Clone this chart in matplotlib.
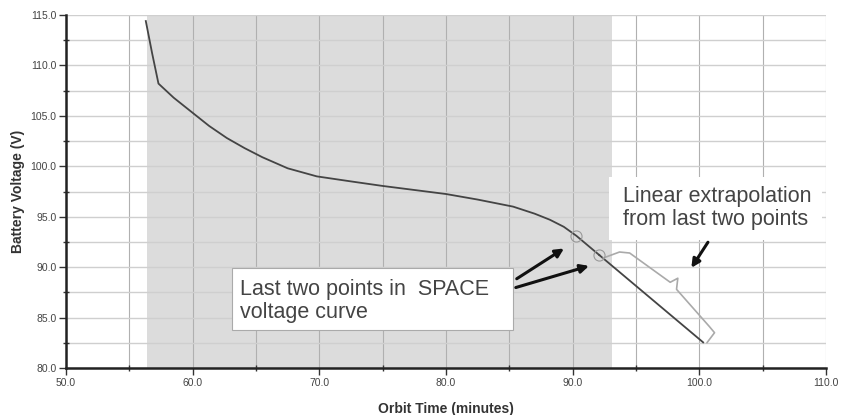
import numpy as np
import matplotlib
matplotlib.use("Agg")
import matplotlib.pyplot as plt
from matplotlib.patches import Rectangle
from matplotlib.ticker import MultipleLocator, FormatStrFormatter

plt.rcParams['font.family'] = ['Liberation Sans', 'DejaVu Sans']

# ---- data ----
orbit_time = [56.3, 56.8, 57.3, 58.5, 60.0, 61.3, 62.7, 64.1, 65.5, 67.5, 69.8,
              72.5, 75.0, 77.5, 80.0, 82.5, 85.3, 87.0, 88.2, 89.3, 90.3, 92.1]
voltage = [114.4, 111.2, 108.2, 106.8, 105.3, 104.0, 102.8, 101.8, 100.9, 99.8, 99.0,
           98.5, 98.05, 97.65, 97.25, 96.7, 96.0, 95.3, 94.7, 94.0, 93.1, 91.2]
extrap_end = 100.3           # where the extrapolated line stops
shade_start, shade_end = 56.4, 93.1

# brace drawn along the extrapolated segment
brace_x = [92.4, 93.7, 94.5, 97.7, 98.3, 98.2, 100.8, 101.2, 100.6]
brace_y = [90.9, 91.5, 91.4, 88.5, 88.9, 87.8, 84.1, 83.5, 82.5]

# ---- linear extrapolation from the last two points ----
x1, x2 = orbit_time[-2], orbit_time[-1]
v1, v2 = voltage[-2], voltage[-1]
slope = (v2 - v1) / (x2 - x1)
ex_x = [x2, extrap_end]
ex_y = [v2, v2 + slope * (extrap_end - x2)]

fig = plt.figure(figsize=(8.49, 4.15), dpi=100)
ax = fig.add_axes([66/849, 1 - 368/415, (826-66)/849, (368-15)/415])

ax.axvspan(shade_start, shade_end, color='#dcdcdc', zorder=0, lw=0)

ax.plot(orbit_time, voltage, color='#444444', lw=1.3, zorder=3)
ax.plot(ex_x, ex_y, color='#444444', lw=1.3, zorder=3)
ax.plot([x1, x2], [v1, v2], 'o', ms=8, mfc='none', mec='#999999', mew=0.8, zorder=4)
ax.plot(brace_x, brace_y, color='#aaaaaa', lw=1.2, zorder=3,
        solid_joinstyle='round', solid_capstyle='round')

ax.set_xlim(50, 110)
ax.set_ylim(80, 115)
ax.xaxis.set_major_locator(MultipleLocator(10))
ax.xaxis.set_minor_locator(MultipleLocator(5))
ax.yaxis.set_major_locator(MultipleLocator(5))
ax.yaxis.set_minor_locator(MultipleLocator(2.5))
ax.xaxis.set_major_formatter(FormatStrFormatter('%.1f'))
ax.yaxis.set_major_formatter(FormatStrFormatter('%.1f'))

ax.grid(which='major', axis='x', color='#b0b0b0', lw=0.8, zorder=1)
ax.grid(which='minor', axis='x', color='#b0b0b0', lw=0.8, zorder=1)
ax.grid(which='both', axis='y', color='#cfcfcf', lw=1.0, zorder=1)
ax.set_axisbelow(True)

for s in ['top', 'right']:
    ax.spines[s].set_visible(False)
for s in ['left', 'bottom']:
    ax.spines[s].set_color('#222222')
    ax.spines[s].set_linewidth(1.8)

ax.tick_params(which='major', length=5, width=1, color='#333333',
               labelsize=7.5, labelcolor='#444444', pad=2)
ax.tick_params(which='minor', direction='inout', length=4, width=1, color='#333333')

ax.set_xlabel('Orbit Time (minutes)', fontsize=10, fontweight='bold', color='#333333', labelpad=10)
ax.set_ylabel('Battery Voltage (V)', fontsize=10, fontweight='bold', color='#333333', labelpad=4)

# text boxes
ax.add_patch(Rectangle((63.1, 83.8), 22.2, 6.15, facecolor='white',
                       edgecolor='#aaaaaa', lw=0.8, zorder=5))
ax.text(63.7, 86.65, 'Last two points in  SPACE\nvoltage curve', fontsize=15.5,
        color='#444444', va='center', ha='left', linespacing=1.1, zorder=6)

ax.add_patch(Rectangle((92.9, 92.7), 16.8, 6.2, facecolor='white',
                       edgecolor='none', zorder=5))
ax.text(94.0, 95.85, 'Linear extrapolation\nfrom last two points', fontsize=15.5,
        color='#444444', va='center', ha='left', linespacing=1.1, zorder=6)

# arrows
arrow = dict(arrowstyle='-|>,head_length=0.5,head_width=0.25', color='#111111', lw=2.2)
ax.annotate('', xy=(89.5, 92.0), xytext=(85.4, 88.7), arrowprops=arrow, zorder=7)
ax.annotate('', xy=(91.5, 90.2), xytext=(85.3, 87.9), arrowprops=arrow, zorder=7)
ax.annotate('', xy=(99.25, 89.7), xytext=(100.8, 92.7), arrowprops=arrow, zorder=7)

fig.savefig('out.png', dpi=100)
